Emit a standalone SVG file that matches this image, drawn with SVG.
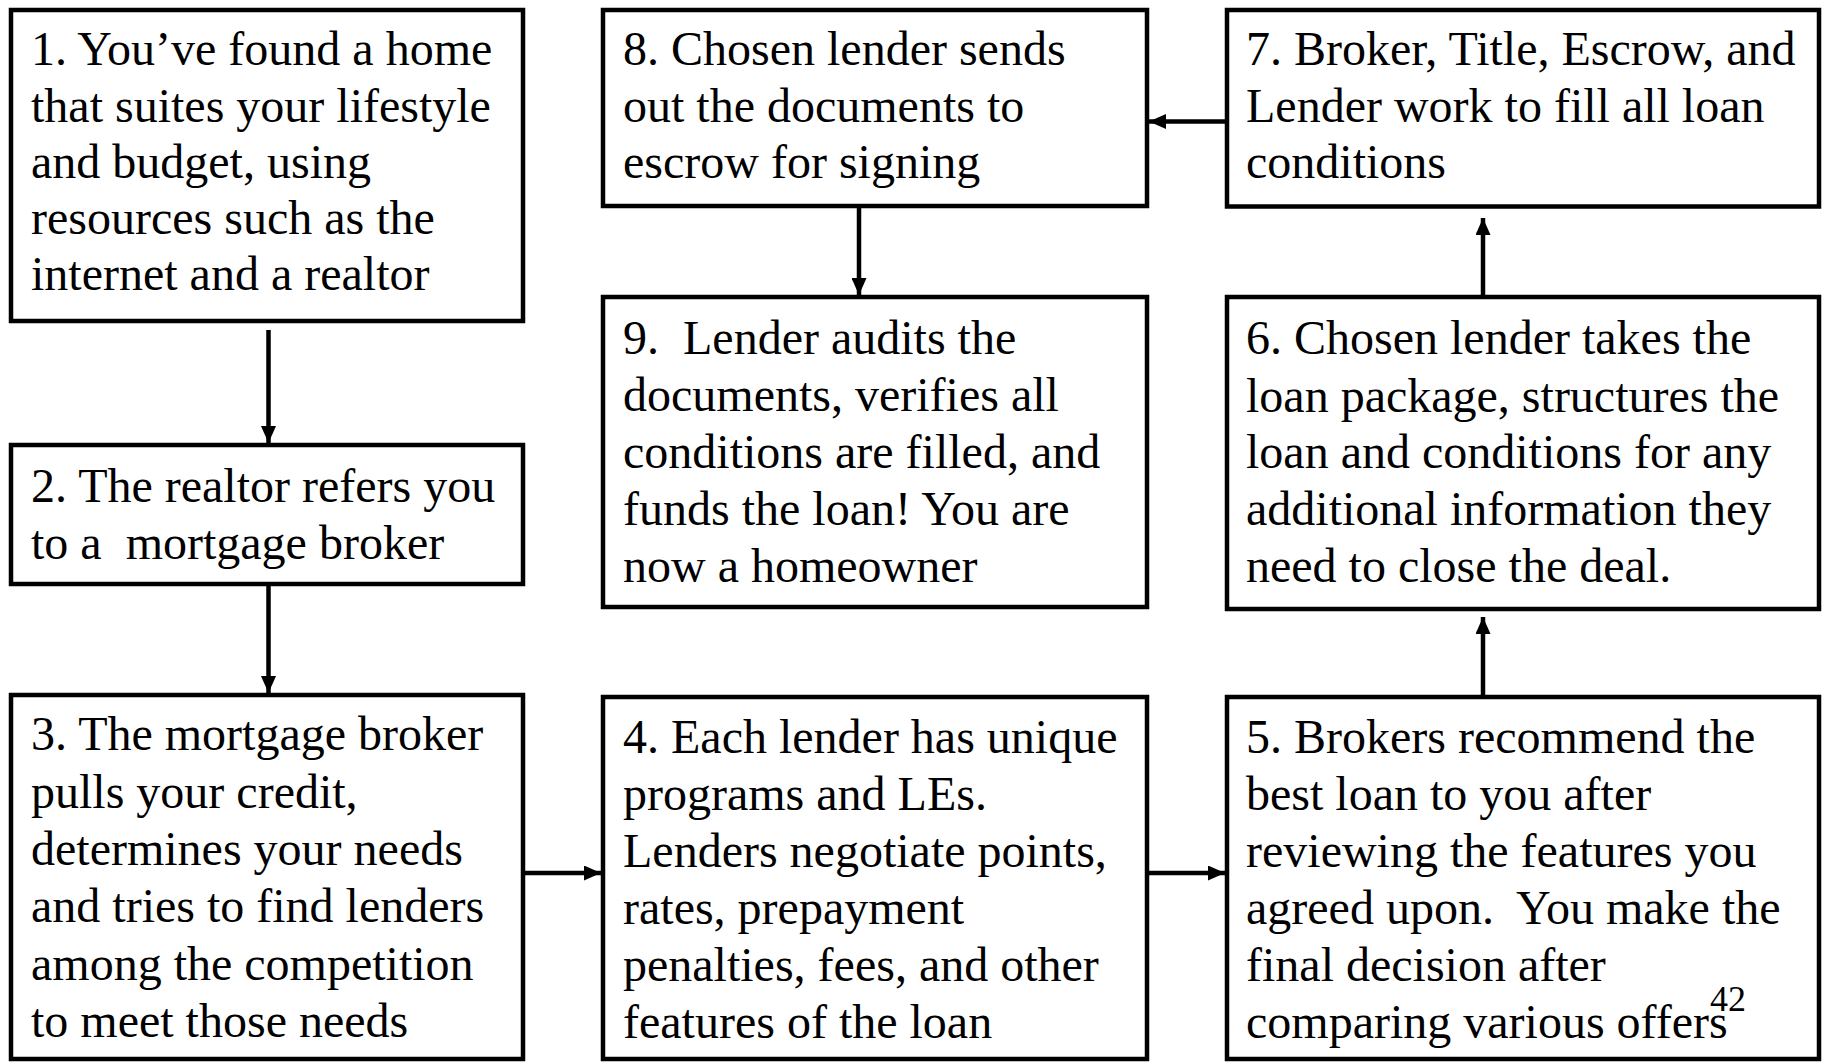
<svg xmlns="http://www.w3.org/2000/svg" width="1823" height="1063" viewBox="0 0 1823 1063">
<style>
.box{fill:#fff;stroke:#000;stroke-width:4.5}
.t{font-family:"Liberation Serif","Times New Roman",serif;font-size:48px;fill:#000;white-space:pre}
.c{stroke:#000;stroke-width:4.5;fill:none;marker-end:url(#ah)}
</style>
<defs>
<marker id="ah" markerUnits="userSpaceOnUse" markerWidth="17" markerHeight="15" refX="17" refY="7.5" orient="auto">
<path d="M0,0 L17,7.5 L0,15 z" fill="#000"/>
</marker>
</defs>
<rect width="1823" height="1063" fill="#fff"/>
<g id="connectors">
<path class="c" d="M268.5,330 L268.5,443"/>
<path class="c" d="M268.5,584 L268.5,693"/>
<path class="c" d="M523,873 L601,873"/>
<path class="c" d="M1147,873 L1225,873"/>
<path class="c" d="M1483,697 L1483,617"/>
<path class="c" d="M1483,297 L1483,218"/>
<path class="c" d="M1227,121.5 L1149,121.5"/>
<path class="c" d="M859,206 L859,295"/>
</g>
<g id="n1">
<rect class="box" x="11" y="10" width="512" height="311"/>
<text class="t" x="31" y="65">1. You’ve found a home</text>
<text class="t" x="31" y="122">that suites your lifestyle</text>
<text class="t" x="31" y="178">and budget, using</text>
<text class="t" x="31" y="234">resources such as the</text>
<text class="t" x="31" y="290">internet and a realtor</text>
</g>
<g id="n2">
<rect class="box" x="11" y="445" width="512" height="139"/>
<text class="t" x="31" y="502">2. The realtor refers you</text>
<text class="t" x="31" y="559">to a  mortgage broker</text>
</g>
<g id="n3">
<rect class="box" x="11" y="695" width="512" height="364"/>
<text class="t" x="31" y="750">3. The mortgage broker</text>
<text class="t" x="31" y="808">pulls your credit,</text>
<text class="t" x="31" y="865">determines your needs</text>
<text class="t" x="31" y="922">and tries to find lenders</text>
<text class="t" x="31" y="980">among the competition</text>
<text class="t" x="31" y="1037">to meet those needs</text>
</g>
<g id="n4">
<rect class="box" x="603" y="697" width="544" height="362"/>
<text class="t" x="623" y="753">4. Each lender has unique</text>
<text class="t" x="623" y="810">programs and LEs.</text>
<text class="t" x="623" y="867">Lenders negotiate points,</text>
<text class="t" x="623" y="924">rates, prepayment</text>
<text class="t" x="623" y="981">penalties, fees, and other</text>
<text class="t" x="623" y="1038">features of the loan</text>
</g>
<g id="n5">
<rect class="box" x="1227" y="697" width="592" height="362"/>
<text class="t" x="1246" y="753">5. Brokers recommend the</text>
<text class="t" x="1246" y="810">best loan to you after</text>
<text class="t" x="1246" y="867">reviewing the features you</text>
<text class="t" x="1246" y="924">agreed upon.  You make the</text>
<text class="t" x="1246" y="981">final decision after</text>
<text class="t" x="1246" y="1038">comparing various offers</text>
</g>
<g id="n6">
<rect class="box" x="1227" y="297" width="592" height="312"/>
<text class="t" x="1246" y="354">6. Chosen lender takes the</text>
<text class="t" x="1246" y="412">loan package, structures the</text>
<text class="t" x="1246" y="468">loan and conditions for any</text>
<text class="t" x="1246" y="525">additional information they</text>
<text class="t" x="1246" y="582">need to close the deal.</text>
</g>
<g id="n7">
<rect class="box" x="1227" y="10" width="592" height="196.5"/>
<text class="t" x="1246" y="65">7. Broker, Title, Escrow, and</text>
<text class="t" x="1246" y="122">Lender work to fill all loan</text>
<text class="t" x="1246" y="178">conditions</text>
</g>
<g id="n8">
<rect class="box" x="603" y="10" width="544" height="196"/>
<text class="t" x="623" y="65">8. Chosen lender sends</text>
<text class="t" x="623" y="122">out the documents to</text>
<text class="t" x="623" y="178">escrow for signing</text>
</g>
<g id="n9">
<rect class="box" x="603" y="297" width="544" height="310"/>
<text class="t" x="623" y="354">9.  Lender audits the</text>
<text class="t" x="623" y="411">documents, verifies all</text>
<text class="t" x="623" y="468">conditions are filled, and</text>
<text class="t" x="623" y="525">funds the loan! You are</text>
<text class="t" x="623" y="582">now a homeowner</text>
</g>
<text class="t" x="1710" y="1011" style="font-size:36px">42</text>
</svg>
